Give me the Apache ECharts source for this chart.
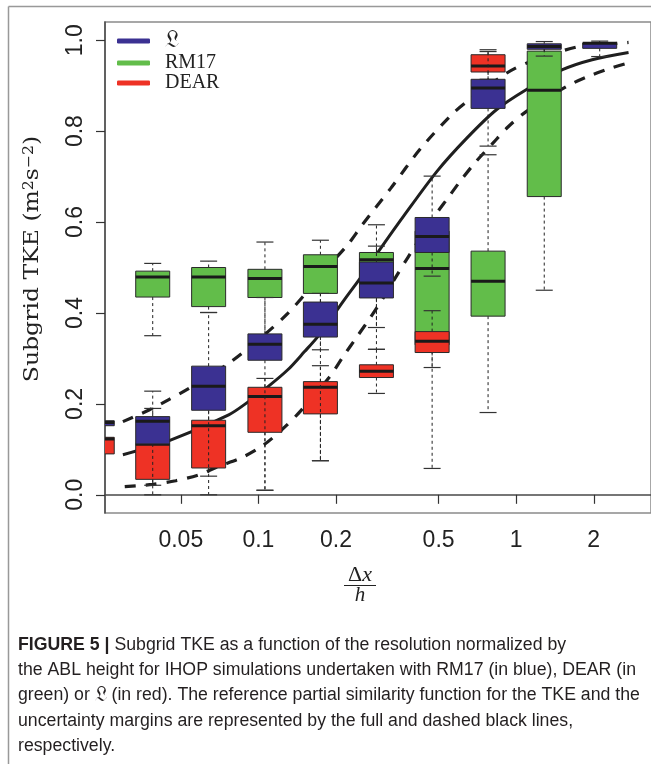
<!DOCTYPE html>
<html><head><meta charset="utf-8">
<script src="https://cdn.jsdelivr.net/npm/echarts@6/dist/echarts.min.js"></script>
<style>html,body{margin:0;padding:0;background:#fff;}#c{width:651px;height:764px;}</style>
</head><body><div id="c"></div>
<script>
// ---------------- data ----------------
const seriesNames = ['𝔏', 'RM17', 'DEAR'];
const seriesColors = ['#3b3192', '#62bd4a', '#ee3225'];
const xPositions = [0.0237, 0.0389, 0.0641, 0.106, 0.174, 0.287, 0.472, 0.778, 1.285, 2.109];
// each entry: [lower whisker, Q1, median, Q3, upper whisker]
const statsL = [
  [0.152, 0.152, 0.159, 0.163, 0.163],
  [0.021, 0.112, 0.162, 0.172, 0.228],
  [0.041, 0.186, 0.239, 0.283, 0.401],
  [0.010, 0.296, 0.331, 0.354, 0.434],
  [0.075, 0.347, 0.375, 0.424, 0.443],
  [0.368, 0.433, 0.466, 0.512, 0.547],
  [0.481, 0.533, 0.568, 0.610, 0.701],
  [0.767, 0.850, 0.895, 0.914, 0.975],
  [0.965, 0.980, 0.986, 0.992, 0.997],
  [0.964, 0.982, 0.993, 0.994, 0.998]
];
const statsRM17 = [
  null,
  [0.350, 0.435, 0.479, 0.492, 0.509],
  [0.401, 0.414, 0.479, 0.500, 0.514],
  [0.330, 0.434, 0.476, 0.496, 0.556],
  [0.319, 0.443, 0.502, 0.528, 0.560],
  [0.320, 0.470, 0.517, 0.533, 0.594],
  [0.058, 0.330, 0.498, 0.580, 0.600],
  [0.181, 0.393, 0.470, 0.536, 0.748],
  [0.450, 0.656, 0.890, 0.976, 0.990],
  null
];
const statsDEAR = [
  [0.090, 0.090, 0.123, 0.1265, 0.1265],
  [0.000, 0.034, 0.111, 0.112, 0.190],
  [0.000, 0.059, 0.152, 0.164, 0.210],
  [0.010, 0.1375, 0.216, 0.2365, 0.256],
  [0.075, 0.178, 0.2365, 0.249, 0.284],
  [0.223, 0.258, 0.272, 0.286, 0.320],
  [0.280, 0.313, 0.338, 0.359, 0.405],
  [0.914, 0.930, 0.943, 0.968, 0.979],
  null,
  null
];
// reference similarity function and uncertainty margins
const solidCurve = [[0.0298,0.088],[0.0451,0.119],[0.0767,0.176],[0.0915,0.205],[0.109,0.238],[0.130,0.275],[0.151,0.315],[0.170,0.348],[0.200,0.403],[0.216,0.430],[0.250,0.479],[0.298,0.542],[0.367,0.614],[0.492,0.711],[0.642,0.784],[0.838,0.847],[1.093,0.891],[1.512,0.935],[1.972,0.957],[2.729,0.973]];
const upperCurve = [[0.0298,0.161],[0.0378,0.187],[0.0451,0.210],[0.0538,0.234],[0.0767,0.289],[0.109,0.359],[0.130,0.399],[0.151,0.440],[0.183,0.497],[0.222,0.550],[0.253,0.594],[0.326,0.674],[0.425,0.761],[0.562,0.836],[0.652,0.867],[0.915,0.927],[1.115,0.951],[1.752,0.986],[2.483,0.993],[2.729,0.995]];
const lowerCurve = [[0.0303,0.018],[0.0389,0.023],[0.0478,0.031],[0.0588,0.044],[0.0696,0.062],[0.0863,0.082],[0.105,0.110],[0.127,0.150],[0.145,0.183],[0.188,0.258],[0.212,0.302],[0.240,0.346],[0.272,0.390],[0.308,0.437],[0.342,0.480],[0.381,0.523],[0.481,0.612],[0.542,0.652],[0.609,0.691],[0.696,0.732],[0.814,0.774],[0.929,0.809],[1.093,0.843],[1.567,0.898],[1.897,0.920],[2.318,0.938],[2.729,0.950]];
const xTickValues = [0.05, 0.1, 0.2, 0.5, 1, 2];
const xTickLabels = ['0.05', '0.1', '0.2', '0.5', '1', '2'];
const yTickValues = [0, 0.2, 0.4, 0.6, 0.8, 1.0];
const yTickLabels = ['0.0', '0.2', '0.4', '0.6', '0.8', '1.0'];
const xRange = [0.0254, 3.335];
const yRange = [-0.04, 1.04];
const captionLines = [
  '{b|FIGURE 5 |} Subgrid TKE as a function of the resolution normalized by',
  'the ABL height for IHOP simulations undertaken with RM17 (in blue), DEAR (in',
  'green) or {f|𝔏} (in red). The reference partial similarity function for the TKE and the',
  'uncertainty margins are represented by the full and dashed black lines,',
  'respectively.'
];

// ---------------- chart ----------------
function boxRows(stats) {
  const rows = [];
  stats.forEach((s, i) => { if (s) rows.push([xPositions[i]].concat(s)); });
  return rows;
}
function renderBox(params, api) {
  const x = api.value(0);
  const pLo = api.coord([x, api.value(1)]);
  const pQ1 = api.coord([x, api.value(2)]);
  const pMd = api.coord([x, api.value(3)]);
  const pQ3 = api.coord([x, api.value(4)]);
  const pHi = api.coord([x, api.value(5)]);
  const cx = pMd[0];
  const hw = 17, cw = 8.5;
  const color = api.visual('color');
  const whisk = { stroke: '#222', lineWidth: 1, lineDash: [3, 3] };
  const cap = { stroke: '#333', lineWidth: 1.2 };
  const ch = [];
  if (pHi[1] < pQ3[1] - 0.5) {
    ch.push({ type: 'line', shape: { x1: cx, y1: pQ3[1], x2: cx, y2: pHi[1] }, style: whisk });
    ch.push({ type: 'line', shape: { x1: cx - cw, y1: pHi[1], x2: cx + cw, y2: pHi[1] }, style: cap });
  }
  if (pLo[1] > pQ1[1] + 0.5) {
    ch.push({ type: 'line', shape: { x1: cx, y1: pQ1[1], x2: cx, y2: pLo[1] }, style: whisk });
    ch.push({ type: 'line', shape: { x1: cx - cw, y1: pLo[1], x2: cx + cw, y2: pLo[1] }, style: cap });
  }
  ch.push({ type: 'rect', shape: { x: cx - hw, y: pQ3[1], width: 2 * hw, height: pQ1[1] - pQ3[1] },
            style: { fill: color, stroke: '#2a2a2a', lineWidth: 1 } });
  ch.push({ type: 'line', shape: { x1: cx - hw, y1: pMd[1], x2: cx + hw, y2: pMd[1] },
            style: { stroke: '#1a1a1a', lineWidth: 3 } });
  return { type: 'group', children: ch };
}
function boxSeries(idx, stats) {
  return {
    type: 'custom', name: seriesNames[idx], renderItem: renderBox, clip: true, z: 3,
    data: boxRows(stats), encode: { x: 0, y: [1, 2, 3, 4, 5] },
    itemStyle: { color: seriesColors[idx] }, silent: true
  };
}
function curveSeries(data, dashed) {
  return {
    type: 'line', data: data, symbol: 'none', showSymbol: false, smooth: 0.3,
    z: 1, silent: true, clip: true,
    lineStyle: { color: '#1f1f1f', width: dashed ? 3.2 : 3, type: dashed ? [11, 10] : 'solid', cap: 'butt' }
  };
}

// caption horizontal compression (condensed face)
const cv = document.createElement('canvas').getContext('2d');
cv.font = '18px "Liberation Sans"';
const capScale = 618 / cv.measureText(captionLines[1]).width;

const graphics = [
  { type: 'line', shape: { x1: 8.5, y1: 6.5, x2: 651, y2: 6.5 }, style: { stroke: '#999', lineWidth: 1.5 } },
  { type: 'line', shape: { x1: 8.5, y1: 6.5, x2: 8.5, y2: 764 }, style: { stroke: '#999', lineWidth: 1.5 } },
  { type: 'text', x: 33, y: 259, rotation: Math.PI / 2, scaleX: 1.12,
    style: { text: 'Subgrid TKE (m{sup|2}s{sup|−2})', align: 'center', verticalAlign: 'middle',
      fontFamily: '"DejaVu Serif"', fontSize: 21, fill: '#222',
      rich: { sup: { fontFamily: '"DejaVu Serif"', fontSize: 14, verticalAlign: 'top', padding: [0, 0, 8, 0] } } } },
  { type: 'text', x: 360, y: 575,
    style: { text: 'Δ{i|x}', align: 'center', verticalAlign: 'middle', fontFamily: '"Liberation Serif"', fontSize: 22, fill: '#222',
      rich: { i: { fontStyle: 'italic', fontFamily: '"Liberation Serif"', fontSize: 22 } } } },
  { type: 'line', shape: { x1: 344, y1: 585.5, x2: 376, y2: 585.5 }, style: { stroke: '#222', lineWidth: 1 } },
  { type: 'text', x: 360, y: 595,
    style: { text: 'h', align: 'center', verticalAlign: 'middle', fontFamily: '"Liberation Serif"', fontStyle: 'italic', fontSize: 21, fill: '#222' } }
];
const capCenters = [645.5, 670.5, 695.5, 721, 746];
captionLines.forEach((t, i) => {
  graphics.push({ type: 'text', x: 18, y: capCenters[i], scaleX: capScale,
    style: { text: t, align: 'left', verticalAlign: 'middle', fontFamily: '"Liberation Sans"', fontSize: 18, fill: '#231f20',
      rich: { b: { fontWeight: 'bold', fontFamily: '"Liberation Sans"', fontSize: 18, fill: '#231f20' },
              f: { fontFamily: '"Liberation Serif"', fontSize: 21, fill: '#231f20' } } } });
});

const option = {
  animation: false,
  backgroundColor: '#fff',
  grid: { left: 105, right: -5, top: 22, bottom: 251, show: true, borderColor: '#8a8a8a', borderWidth: 1.5 },
  legend: {
    data: seriesNames, orient: 'vertical', left: 117, top: 29, padding: 0, itemGap: 0,
    itemWidth: 33, itemHeight: 5, icon: 'roundRect', selectedMode: false,
    formatter: name => name === seriesNames[0] ? '{f|' + name + '}' : name,
    textStyle: { fontFamily: '"Liberation Serif"', fontSize: 20, color: '#222', lineHeight: 18, padding: [0, 0, 0, 10],
      rich: { f: { fontFamily: '"Liberation Serif"', fontSize: 24, color: '#222', lineHeight: 18 } } }
  },
  xAxis: {
    type: 'log', logBase: 10, min: xRange[0], max: xRange[1],
    splitLine: { show: false },
    axisLine: { show: true, lineStyle: { color: '#4a4a4a', width: 1.5 } },
    axisTick: { show: true, length: 9, customValues: xTickValues, lineStyle: { color: '#333', width: 1.2 } },
    axisLabel: { customValues: xTickValues, margin: 16, fontFamily: '"Liberation Sans"', fontSize: 23, color: '#222',
      formatter: v => { let k = 0; xTickValues.forEach((t, i) => { if (Math.abs(Math.log(t / v)) < Math.abs(Math.log(xTickValues[k] / v))) k = i; }); return xTickLabels[k]; } }
  },
  yAxis: {
    type: 'value', min: yRange[0], max: yRange[1],
    splitLine: { show: false },
    axisLine: { show: true, lineStyle: { color: '#4a4a4a', width: 1.5 } },
    axisTick: { show: true, length: 9, customValues: yTickValues, lineStyle: { color: '#333', width: 1.2 } },
    axisLabel: { customValues: yTickValues, rotate: 90, margin: 18, fontFamily: '"Liberation Sans"', fontSize: 23, color: '#222',
      formatter: v => { let k = 0; yTickValues.forEach((t, i) => { if (Math.abs(t - v) < Math.abs(yTickValues[k] - v)) k = i; }); return yTickLabels[k]; } }
  },
  series: [
    curveSeries(solidCurve, false),
    curveSeries(upperCurve, true),
    curveSeries(lowerCurve, true),
    boxSeries(1, statsRM17),
    boxSeries(2, statsDEAR),
    boxSeries(0, statsL)
  ],
  graphic: graphics
};
const chart = echarts.init(document.getElementById('c'), null, { renderer: 'canvas' });
chart.setOption(option);
</script>
</body></html>
